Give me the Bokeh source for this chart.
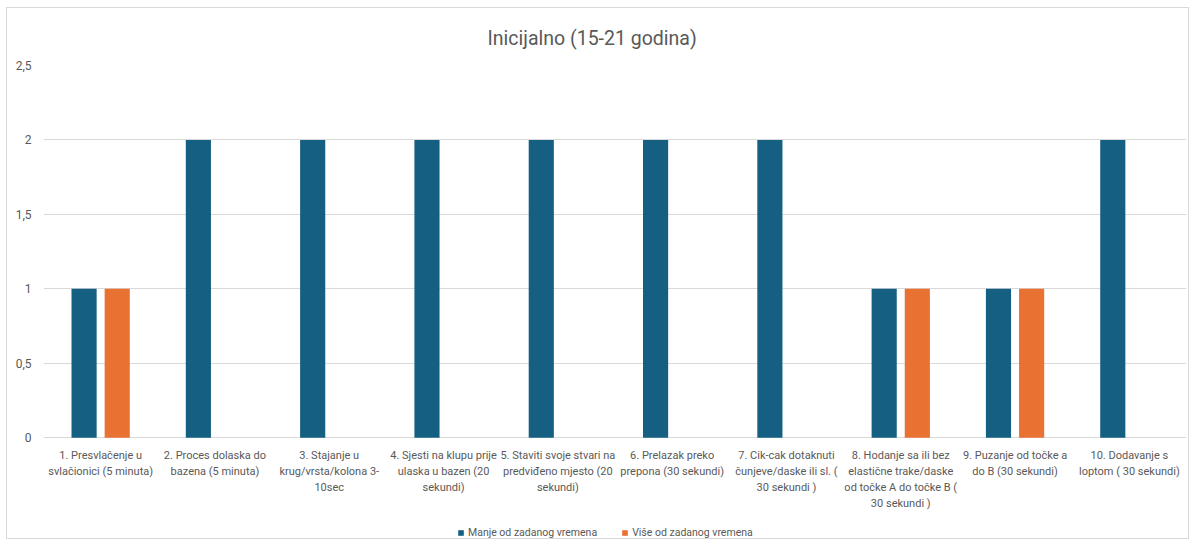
from bokeh.plotting import figure
from bokeh.models import (Range1d, FixedTicker, Legend, LegendItem, LabelSet,
                          ColumnDataSource, Title)
from bokeh.core.properties import value
from bokeh.embed import file_html
from bokeh.resources import INLINE

categories = [
    "1. Presvlačenje u\nsvlačionici (5 minuta)",
    "2. Proces dolaska do\nbazena (5 minuta)",
    "3. Stajanje u\nkrug/vrsta/kolona 3-\n10sec",
    "4. Sjesti na klupu prije\nulaska u bazen (20\nsekundi)",
    "5. Staviti svoje stvari na\npredviđeno mjesto (20\nsekundi)",
    "6. Prelazak preko\nprepona (30 sekundi)",
    "7. Cik-cak dotaknuti\nčunjeve/daske ili sl. (\n30 sekundi )",
    "8. Hodanje sa ili bez\nelastične trake/daske\nod točke A do točke B (\n30 sekundi )",
    "9. Puzanje od točke a\ndo B (30 sekundi)",
    "10. Dodavanje s\nloptom ( 30 sekundi)",
]
manje = [1, 2, 2, 2, 2, 2, 2, 1, 1, 2]
vise = [1, 0, 0, 0, 0, 0, 0, 1, 1, 0]
series_names = ["Manje od zadanog vremena", "Više od zadanog vremena"]
y_ticks = [0, 0.5, 1, 1.5, 2, 2.5]
y_tick_labels = ["0", "0,5", "1", "1,5", "2", "2,5"]

BLUE = "#156082"
ORANGE = "#E97132"
GRAY_TXT = "#595959"
FONT = "Roboto"

W, H = 1183, 532
TOP, LEFT, RIGHT = 56, 36, 4
ZERO_Y = 429                      # pixel row of value 0 inside the figure
px_per_unit = (ZERO_Y - TOP) / 2.5
y_start = -(H - ZERO_Y) / px_per_unit

n = len(categories)
centers = [i + 0.5 for i in range(n)]
src = ColumnDataSource(dict(
    x1=[c - 0.145 for c in centers],
    x2=[c + 0.145 for c in centers],
    manje=manje, vise=vise,
))

# one row per label line, so that every line is centred on its category
lx, ly, loff, ltxt = [], [], [], []
for c, cat in zip(centers, categories):
    for k, line in enumerate(cat.split("\n")):
        lx.append(c)
        ly.append(0.0)
        loff.append(-18 - 16 * k)
        ltxt.append(line)
lsrc = ColumnDataSource(dict(x=lx, y=ly, off=loff, text=ltxt))

p = figure(x_range=Range1d(0, n), y_range=Range1d(y_start, 2.5),
           width=W, height=H, output_backend="svg", toolbar_location=None,
           x_axis_location=None)
p.styles = {"border": "1px solid #d9d9d9", "margin-left": "6px", "margin-top": "7px"}
p.min_border_left = LEFT
p.min_border_right = RIGHT
p.min_border_top = TOP
p.min_border_bottom = 0
p.outline_line_color = None

t = Title(text="Inicijalno (15-21 godina)", align="left", text_font=FONT,
          text_font_size="19.5px", text_font_style="normal", text_color=GRAY_TXT,
          standoff=32, offset=444)
p.add_layout(t, "above")

r1 = p.vbar(x="x1", top="manje", width=0.22, source=src, color=BLUE, line_color=None)
r2 = p.vbar(x="x2", top="vise", width=0.22, source=src, color=ORANGE, line_color=None)

p.yaxis.ticker = FixedTicker(ticks=y_ticks)
p.yaxis.major_label_overrides = {t_: l for t_, l in zip(y_ticks, y_tick_labels)}
p.yaxis.axis_line_color = None
p.yaxis.major_tick_line_color = None
p.yaxis.minor_tick_line_color = None
p.yaxis.major_label_text_font = FONT
p.yaxis.major_label_text_font_size = "12px"
p.yaxis.major_label_text_color = GRAY_TXT
p.yaxis.major_label_standoff = 6

p.xgrid.grid_line_color = None
p.ygrid.grid_line_color = "#d9d9d9"
p.ygrid.ticker = FixedTicker(ticks=y_ticks)

labels = LabelSet(x="x", y="y", text="text", y_offset="off", source=lsrc,
                  text_align="center", text_baseline="middle",
                  text_font=value(FONT), text_font_size=value("11px"),
                  text_color=value(GRAY_TXT))
p.add_layout(labels)

legend = Legend(items=[LegendItem(label=series_names[0], renderers=[r1]),
                       LegendItem(label=series_names[1], renderers=[r2])],
                orientation="horizontal", location=(414, 1),
                label_text_font=FONT, label_text_font_size="10.5px",
                label_text_color=GRAY_TXT, glyph_width=7, glyph_height=7,
                label_standoff=4, spacing=24, border_line_color=None,
                background_fill_alpha=0, padding=2, margin=0)
p.add_layout(legend, "center")

open("out.html", "w").write(file_html(p, INLINE))
